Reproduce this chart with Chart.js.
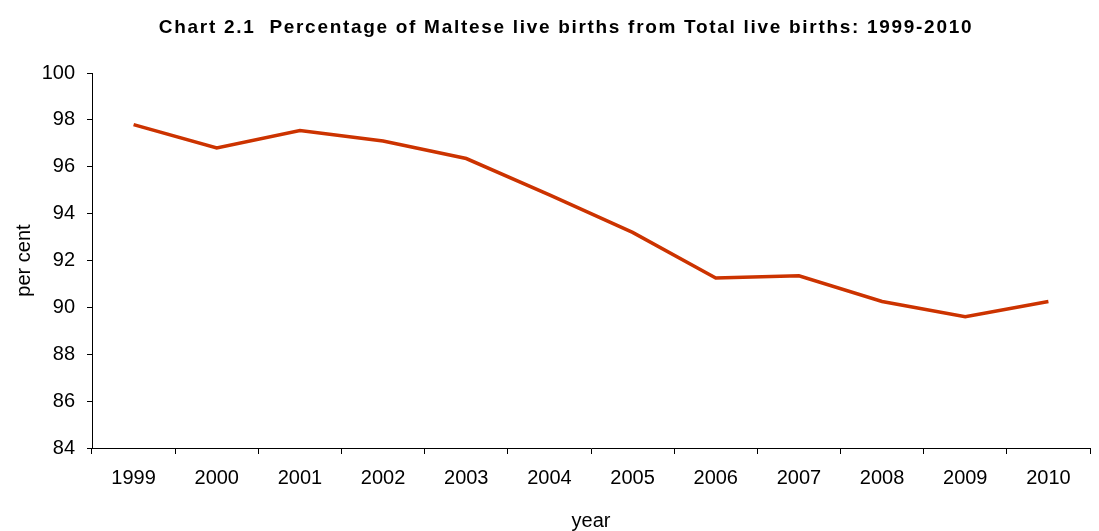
<!DOCTYPE html>
<html>
<head>
<meta charset="utf-8">
<script src="https://cdn.jsdelivr.net/npm/chart.js@4"></script>
<style>
  html, body { margin: 0; padding: 0; background: #fff; }
  #wrap { width: 1099px; height: 531px; }
</style>
</head>
<body>
<div id="wrap"><canvas id="birthsChart" width="1099" height="531"></canvas></div>
<script>
const years = ['1999', '2000', '2001', '2002', '2003', '2004', '2005', '2006', '2007', '2008', '2009', '2010'];
const malteseShare = [97.8, 96.8, 97.55, 97.1, 96.35, 94.8, 93.2, 91.25, 91.35, 90.25, 89.6, 90.25];
const yMin = 84;
const yMax = 100;
const yStep = 2;
const chartTitle = 'Chart 2.1  Percentage of Maltese live births from Total live births: 1999-2010';

const font = 'Arial, "Liberation Sans", sans-serif';

// title drawn by hand so it can get the wide letter spacing of the original
const spacedTitle = {
    id: 'spacedTitle',
    afterDraw(chart) {
        const ctx = chart.ctx;
        ctx.save();
        ctx.font = 'bold 19px ' + font;
        ctx.fillStyle = '#000';
        ctx.textAlign = 'center';
        ctx.textBaseline = 'middle';
        if ('letterSpacing' in ctx) ctx.letterSpacing = '1.7px';
        ctx.fillText(chartTitle, 566, 28);
        ctx.restore();
    },
};

new Chart(document.getElementById('birthsChart').getContext('2d'), {
    type: 'line',
    data: {
        labels: years,
        datasets: [
            {
                label: 'Maltese live births',
                data: malteseShare,
                borderColor: '#cc3300',
                borderWidth: 3.5,
                pointRadius: 0,
                tension: 0,
                fill: false,
            },
        ],
    },
    options: {
        responsive: false,
        animation: false,
        layout: { padding: { top: 73, right: 9, left: 0, bottom: 0 } },
        plugins: {
            legend: { display: false },
            title: { display: false },
            tooltip: { enabled: false },
        },
        scales: {
            x: {
                offset: true,
                grid: {
                    offset: true,
                    drawOnChartArea: false,
                    drawTicks: true,
                    tickLength: 6,
                    color: '#000',
                },
                border: { color: '#000', width: 1 },
                ticks: {
                    color: '#000',
                    font: { family: font, size: 20 },
                    padding: 12,
                    maxRotation: 0,
                },
                title: {
                    display: true,
                    text: 'year',
                    color: '#000',
                    font: { family: font, size: 20, lineHeight: 1 },
                    padding: { top: 10, bottom: 0 },
                },
                afterFit(scale) {
                    scale.height = 83;
                },
            },
            y: {
                min: yMin,
                max: yMax,
                grid: {
                    drawOnChartArea: false,
                    drawTicks: true,
                    tickLength: 5,
                    color: '#000',
                },
                border: { color: '#000', width: 1 },
                ticks: {
                    stepSize: yStep,
                    color: '#000',
                    font: { family: font, size: 20 },
                    padding: 12,
                },
                title: {
                    display: true,
                    text: 'per cent',
                    color: '#000',
                    font: { family: font, size: 20 },
                    padding: { top: 12, bottom: 0 },
                },
                afterFit(scale) {
                    scale.width = 92;
                },
            },
        },
    },
    plugins: [spacedTitle],
});
</script>
</body>
</html>
